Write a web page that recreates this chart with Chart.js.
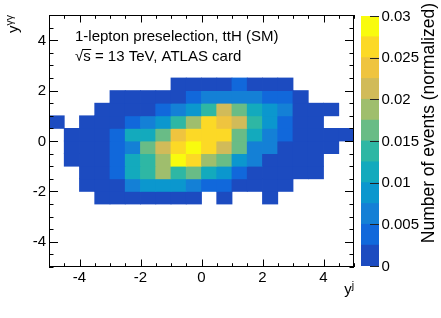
<!DOCTYPE html>
<html><head><meta charset="utf-8">
<script src="https://cdn.jsdelivr.net/npm/chart.js@4.4.1/dist/chart.umd.min.js"></script>
<style>
html,body{margin:0;padding:0;background:#fff;}
#wrap{position:relative;width:441px;height:318px;background:#fff;}
canvas{position:absolute;left:0;top:0;}
</style>
</head><body>
<div id="wrap"><canvas id="main" width="441" height="318"></canvas><canvas id="cbar" width="441" height="318"></canvas></div>
<script>
// ---- data ----
const xCenters = [-4.75,-4.25,-3.75,-3.25,-2.75,-2.25,-1.75,-1.25,-0.75,-0.25,0.25,0.75,1.25,1.75,2.25,2.75,3.25,3.75,4.25,4.75];
const yLowEdges = [2, 1.5, 1, 0.5, 0, -0.5, -1, -1.5, -2, -2.5];
const n = null;
const z_y2p0  = [n,n,n,n,n,n,n,n,.001,.001,.001,.001,.004,.001,.001,.001,n,n,n,n];
const z_y1p5  = [n,n,n,n,.001,.001,.001,.001,.001,.004,.006,.006,.006,.006,.004,.004,.001,n,n,n];
const z_y1p0  = [n,n,n,.001,.001,.001,.001,.004,.006,.009,.014,.021,.016,.011,.009,.006,.001,.001,.001,n];
const z_y0p5  = [.001,n,.001,.001,.001,.004,.006,.009,.014,.019,.026,.024,.021,.014,.009,.004,.001,.001,n,n];
const z_y0p0  = [n,.001,.001,.001,.004,.011,.011,.016,.024,.026,.026,.026,.016,.011,.006,.004,.001,.001,.001,.001];
const z_ym0p5 = [n,.001,.001,.001,.004,.006,.016,.021,.026,.029,.026,.021,.016,.006,.006,.001,.001,.001,.001,n];
const z_ym1p0 = [n,.001,.001,.001,.004,.011,.014,.019,.029,.026,.019,.016,.009,.006,.001,.001,.001,.001,n,n];
const z_ym1p5 = [n,n,.001,.001,.004,.011,.014,.019,.014,.016,.011,.009,.004,.001,.001,.001,.001,.001,n,n];
const z_ym2p0 = [n,n,.001,.001,.001,.006,.009,.009,.009,.006,.004,.004,.001,.001,.001,.001,n,n,n,n];
const z_ym2p5 = [n,n,n,.001,.001,.001,.001,.001,.001,.001,n,.001,n,n,.001,n,n,n,n,n];
const zRows = [z_y2p0,z_y1p5,z_y1p0,z_y0p5,z_y0p0,z_ym0p5,z_ym1p0,z_ym1p5,z_ym2p0,z_ym2p5];

const xTickValues = [-4,-2,0,2,4];
const xTickLabels = ['-4','-2','0','2','4'];
const yTickValues = [-4,-2,0,2,4];
const yTickLabels = ['-4','-2','0','2','4'];
const zLevelEdges = [0,0.0025,0.005,0.0075,0.01,0.0125,0.015,0.0175,0.02,0.0225,0.025,0.0275,0.03];
const zTickValues = [0,0.005,0.01,0.015,0.02,0.025,0.03];
const zTickLabels = ['0','0.005','0.01','0.015','0.02','0.025','0.03'];
const palette = ['#1c4bc0','#1168db','#1480d6','#0b97ce','#13aabd','#2eb7a4','#69bc86','#9fbe6d','#d1bb59','#efc43f','#fcd926','#f9fb0e'];

function colorFor(v){
  let i = 0;
  while (i < palette.length-1 && v >= zLevelEdges[i+1]) i++;
  return palette[i];
}

const FONT = '"Liberation Sans", Arial, Helvetica, sans-serif';

const mainDatasets = yLowEdges.map((y0, r) => {
  const pts = [], cols = [];
  zRows[r].forEach((v, i) => {
    if (v !== null) { pts.push({x: xCenters[i], y: [y0, y0 + 0.5]}); cols.push(colorFor(v)); }
  });
  return {data: pts, backgroundColor: cols, borderWidth: 0, grouped: false,
          barPercentage: 1, categoryPercentage: 1, inflateAmount: 0.4};
});

const axesPlugin = {
  id: 'rootAxes',
  afterDraw(chart) {
    const ctx = chart.ctx;
    const {left, right, top, bottom} = chart.chartArea;
    const xs = chart.scales.x, ys = chart.scales.y;
    ctx.save();
    ctx.strokeStyle = '#000';
    ctx.lineWidth = 1;
    ctx.strokeRect(left + 0.5, top + 0.5, right - left - 1, bottom - top - 1);
    // ticks
    const xMajor = 7.5, xMinor = 3.8, yMajor = 9, yMinor = 4.5;
    ctx.beginPath();
    for (let v = xs.min; v <= xs.max + 1e-9; v += 0.5) {
      const px = Math.round(xs.getPixelForValue(v)) + 0.5;
      const L = xTickValues.some(t => Math.abs(t - v) < 1e-9) ? xMajor : xMinor;
      ctx.moveTo(px, bottom); ctx.lineTo(px, bottom - L);
      ctx.moveTo(px, top); ctx.lineTo(px, top + L);
    }
    for (let v = ys.min; v <= ys.max + 1e-9; v += 0.5) {
      const py = Math.round(ys.getPixelForValue(v)) + 0.5;
      const L = yTickValues.some(t => Math.abs(t - v) < 1e-9) ? yMajor : yMinor;
      ctx.moveTo(left, py); ctx.lineTo(left + L, py);
      ctx.moveTo(right, py); ctx.lineTo(right - L, py);
    }
    ctx.stroke();
    // tick labels
    ctx.fillStyle = '#000';
    ctx.font = '15px ' + FONT;
    ctx.textAlign = 'center'; ctx.textBaseline = 'alphabetic';
    xTickValues.forEach((v, i) => ctx.fillText(xTickLabels[i], xs.getPixelForValue(v), 282));
    ctx.textAlign = 'right'; ctx.textBaseline = 'middle';
    yTickValues.forEach((v, i) => ctx.fillText(yTickLabels[i], 46, ys.getPixelForValue(v) + 0.5));
    // x title  y^j
    ctx.textBaseline = 'alphabetic'; ctx.textAlign = 'left';
    ctx.font = '15px ' + FONT;
    const wy = ctx.measureText('y').width;
    ctx.font = '10.5px ' + FONT;
    const wj = ctx.measureText('j').width;
    const xt0 = right - wy - wj;
    ctx.font = '15px ' + FONT; ctx.fillText('y', xt0, 294);
    ctx.font = '10.5px ' + FONT; ctx.fillText('j', xt0 + wy, 289);
    // y title  y^γγ (rotated)
    ctx.save();
    ctx.translate(17.5, 33);
    ctx.rotate(-Math.PI / 2);
    ctx.font = '15px ' + FONT; ctx.fillText('y', 0, 0);
    ctx.font = '10.5px ' + FONT; ctx.fillText('\u03B3\u03B3', wy, -5);
    ctx.restore();
    // annotation text
    ctx.font = '15px ' + FONT;
    ctx.fillText('1-lepton preselection, ttH (SM)', 75, 41);
    const x0 = 75, b2 = 61;
    ctx.fillText('\u221A', x0, b2);
    const wr = ctx.measureText('\u221A').width;
    ctx.fillText('s', x0 + wr, b2);
    const ws = ctx.measureText('s').width;
    ctx.beginPath(); ctx.moveTo(x0 + wr - 0.5, b2 - 11.5); ctx.lineTo(x0 + wr + ws + 0.5, b2 - 11.5); ctx.stroke();
    ctx.fillText(' = 13 TeV, ATLAS card', x0 + wr + ws, b2);
    ctx.restore();
  }
};

new Chart(document.getElementById('main'), {
  type: 'bar',
  data: {datasets: mainDatasets},
  options: {
    responsive: false, animation: false, devicePixelRatio: 1,
    layout: {padding: {left: 49, top: 15, right: 87, bottom: 51}},
    plugins: {legend: {display: false}, tooltip: {enabled: false}},
    scales: {
      x: {type: 'linear', min: -5, max: 5, offset: false, display: false},
      y: {type: 'linear', min: -5, max: 5, display: false}
    }
  },
  plugins: [axesPlugin]
});

// ---- colour bar ----
const cbarDatasets = palette.map((c, i) => ({
  data: [[zLevelEdges[i], zLevelEdges[i + 1]]], backgroundColor: c, borderWidth: 0,
  grouped: false, barPercentage: 1, categoryPercentage: 1, inflateAmount: 0.4
}));

const cbarPlugin = {
  id: 'cbarAxis',
  afterDraw(chart) {
    const ctx = chart.ctx;
    const {left, right, top, bottom} = chart.chartArea;
    const zs = chart.scales.y;
    ctx.save();
    ctx.strokeStyle = '#222'; ctx.lineWidth = 1;
    ctx.beginPath();
    zTickValues.forEach(v => {
      const py = Math.round(zs.getPixelForValue(v)) + 0.5;
      ctx.moveTo(right, py); ctx.lineTo(right - 9, py);
    });
    ctx.stroke();
    ctx.fillStyle = '#000';
    ctx.font = '15px ' + FONT;
    ctx.textAlign = 'left'; ctx.textBaseline = 'middle';
    zTickValues.forEach((v, i) => ctx.fillText(zTickLabels[i], right + 2.5, zs.getPixelForValue(v) + 0.5));
    ctx.save();
    ctx.translate(434, 3);
    ctx.rotate(-Math.PI / 2);
    ctx.font = '17.5px ' + FONT;
    ctx.textAlign = 'right'; ctx.textBaseline = 'alphabetic';
    ctx.fillText('Number of events (normalized)', 0, 0);
    ctx.restore();
    ctx.restore();
  }
};

new Chart(document.getElementById('cbar'), {
  type: 'bar',
  data: {labels: ['z'], datasets: cbarDatasets},
  options: {
    responsive: false, animation: false, devicePixelRatio: 1,
    layout: {padding: {left: 361, top: 16, right: 62, bottom: 52}},
    plugins: {legend: {display: false}, tooltip: {enabled: false}},
    scales: {
      x: {display: false},
      y: {type: 'linear', min: 0, max: 0.03, display: false}
    }
  },
  plugins: [cbarPlugin]
});
</script>
</body></html>
